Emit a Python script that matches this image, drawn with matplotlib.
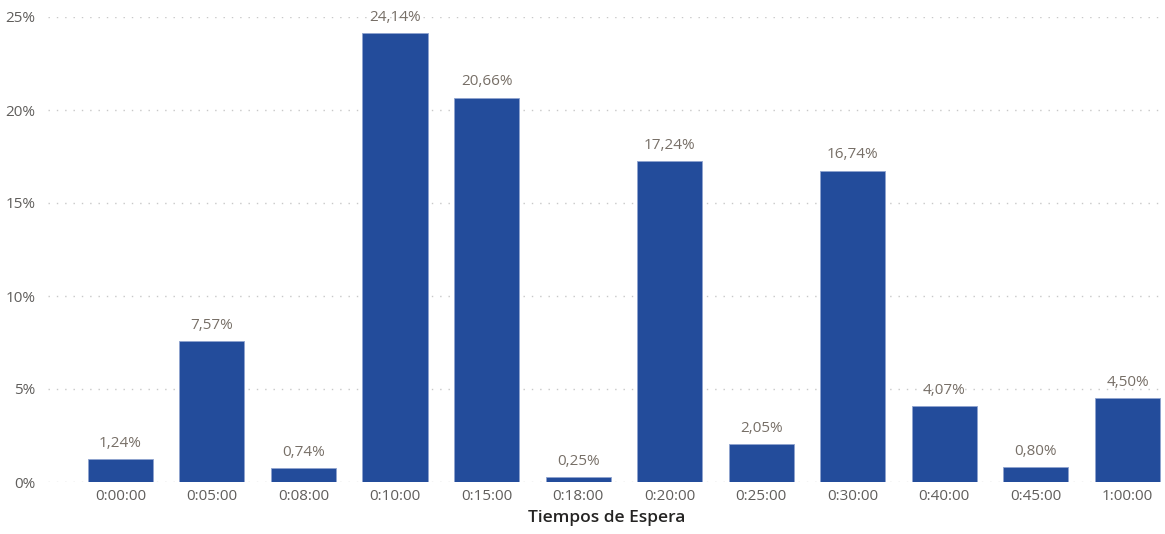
import matplotlib.pyplot as plt
from matplotlib.ticker import FuncFormatter

plt.rcParams['font.family'] = ['Open Sans', 'DejaVu Sans']

# datos
tiempos = ['0:00:00', '0:05:00', '0:08:00', '0:10:00', '0:15:00', '0:18:00',
           '0:20:00', '0:25:00', '0:30:00', '0:40:00', '0:45:00', '1:00:00']
porcentajes = [1.24, 7.57, 0.74, 24.14, 20.66, 0.25,
               17.24, 2.05, 16.74, 4.07, 0.80, 4.50]

fig = plt.figure(figsize=(11.65, 5.34), dpi=100)
ax = fig.add_axes([48 / 1165, 52 / 534, 1117 / 1165, 465 / 534])

x = range(len(tiempos))
bars = ax.bar(x, porcentajes, width=0.71, color='#234C9B',
              edgecolor='#8FA3CF', linewidth=0.6, zorder=3)

for xi, v in zip(x, porcentajes):
    ax.text(xi, v + 0.45, f'{v:.2f}%'.replace('.', ','), ha='center', va='bottom',
            fontsize=11, color='#776F67')

ax.set_xlim(-0.79, 11.41)
ax.set_ylim(0, 25)
ax.set_yticks(range(0, 26, 5))
ax.yaxis.set_major_formatter(FuncFormatter(lambda v, p: f'{v:.0f}%'))
ax.set_xticks(list(x))
ax.set_xticklabels(tiempos)

ax.grid(axis='y', color='#C8C8C8', linestyle=(0, (1, 5)), linewidth=1, zorder=0)
for s in ax.spines.values():
    s.set_visible(False)
ax.tick_params(length=0, labelsize=11, colors='#605E5C')
ax.tick_params(axis='y', pad=9)
ax.tick_params(axis='x', pad=5)

ax.set_xlabel('Tiempos de Espera', fontsize=12.5, fontweight='semibold',
              color='#252423', labelpad=4)

fig.savefig('out.png', dpi=100)
